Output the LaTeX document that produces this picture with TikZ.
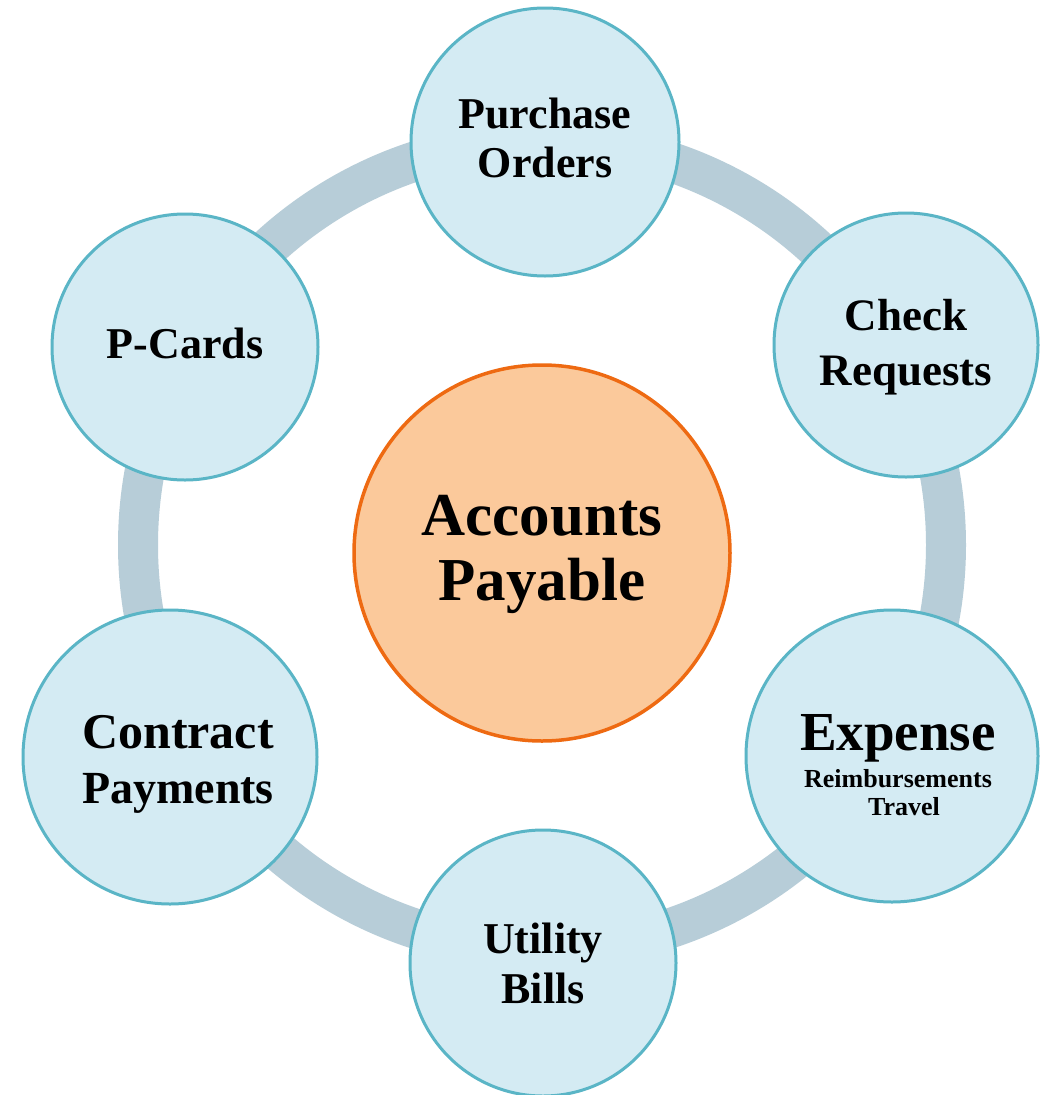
\documentclass[tikz,border=0pt]{standalone}
\usepackage{fontspec}
\setmainfont{Liberation Serif}
\definecolor{ringcol}{HTML}{B7CDD8}
\definecolor{satfill}{HTML}{D4EBF3}
\definecolor{satline}{HTML}{5AB5C6}
\definecolor{hubfill}{HTML}{FBC99B}
\definecolor{hubline}{HTML}{EE6A12}
\newcommand{\fsz}[1]{\fontsize{#1}{#1}\selectfont}
\tikzset{
  sat/.style={circle, draw=satline, line width=3pt, fill=satfill,
    minimum size=#1, inner sep=0pt},
  hub/.style={circle, draw=hubline, line width=3.5pt, fill=hubfill,
    minimum size=376pt, inner sep=0pt},
  ringline/.style={draw=ringcol, line width=40pt},
  word/.style={anchor=base, inner sep=0pt, font=\bfseries\fsz{#1}}
}
\begin{document}
\begin{tikzpicture}[x=1pt, y=-1pt]
  \useasboundingbox (0,0) rectangle (1044,1095);
  \fill[white] (0,0) rectangle (1044,1095);
  % connecting ring
  \coordinate (rc) at (542,545);
  \draw[ringline] (rc) circle[radius=404];
  % hub and satellite discs
  \node[hub] (ap) at (542,553) {};
  \node[sat=268pt] (po) at (545,142) {};
  \node[sat=264pt] (cr) at (906,345) {};
  \node[sat=292pt] (ex) at (892,756) {};
  \node[sat=266pt] (ub) at (543,963) {};
  \node[sat=294pt] (cp) at (170,757) {};
  \node[sat=266pt] (pc) at (185,347) {};
  % labels
  \node[word=61] (apa) at (542,535) {Accounts};
  \node[word=61] (apb) at (542,600) {Payable};
  \node[word=44] (poa) at (545,128) {Purchase};
  \node[word=44] (pob) at (545,177) {Orders};
  \node[word=45] (cra) at (906,330) {Check};
  \node[word=45] (crb) at (906,385) {Requests};
  \node[word=55] (exa) at (898,750) {Expense};
  \node[word=26] (exb) at (898,787) {Reimbursements};
  \node[word=26] (exc) at (904,815) {Travel};
  \node[word=44] (uba) at (543,953) {Utility};
  \node[word=44] (ubb) at (543,1003) {Bills};
  \node[word=50] (cpa) at (178,748) {Contract};
  \node[word=46] (cpb) at (178,803) {Payments};
  \node[word=44] (pca) at (185,358) {P-Cards};
\end{tikzpicture}
\end{document}
